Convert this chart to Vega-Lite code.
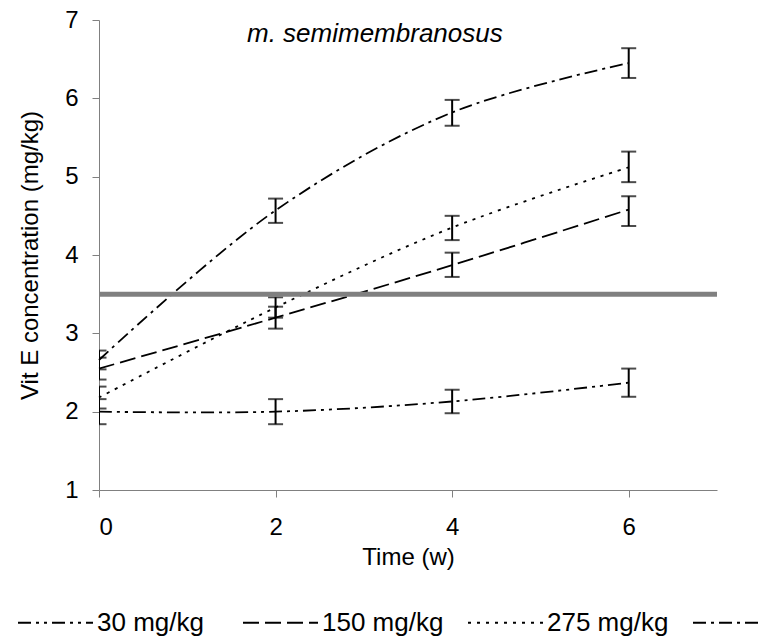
{
  "$schema": "https://vega.github.io/schema/vega-lite/v6.json",
  "width": 618,
  "height": 470,
  "autosize": {"type": "none"},
  "padding": {"left": 99, "top": 20, "right": 41, "bottom": 151},
  "background": "white",
  "config": {
    "font": "Liberation Sans",
    "view": {"stroke": null},
    "axis": {
      "grid": false,
      "domainColor": "#808080",
      "domainWidth": 1,
      "tickColor": "#808080",
      "tickWidth": 1,
      "tickSize": 7,
      "labelFont": "Liberation Sans",
      "labelFontSize": 24,
      "labelColor": "black",
      "titleFont": "Liberation Sans",
      "titleFontSize": 24,
      "titleFontWeight": "normal",
      "titleColor": "black"
    }
  },
  "title": {
    "text": "m. semimembranosus",
    "font": "Liberation Sans",
    "fontSize": 26,
    "fontStyle": "italic",
    "fontWeight": "normal",
    "color": "black",
    "anchor": "start",
    "frame": "group",
    "dx": 148,
    "dy": 36,
    "offset": -24,
    "baseline": "alphabetic"
  },
  "datasets": {
    "series": [
      {"dose": "30 mg/kg", "week": 0, "value": 2.0, "lo": 1.84, "hi": 2.16},
      {"dose": "30 mg/kg", "week": 2, "value": 2.0, "lo": 1.84, "hi": 2.16},
      {"dose": "30 mg/kg", "week": 4, "value": 2.13, "lo": 1.98, "hi": 2.28},
      {"dose": "30 mg/kg", "week": 6, "value": 2.37, "lo": 2.19, "hi": 2.55},
      {"dose": "150 mg/kg", "week": 0, "value": 2.55, "lo": 2.41, "hi": 2.69},
      {"dose": "150 mg/kg", "week": 2, "value": 3.2, "lo": 3.06, "hi": 3.34},
      {"dose": "150 mg/kg", "week": 4, "value": 3.87, "lo": 3.72, "hi": 4.03},
      {"dose": "150 mg/kg", "week": 6, "value": 4.58, "lo": 4.37, "hi": 4.75},
      {"dose": "275 mg/kg", "week": 0, "value": 2.18, "lo": 2.04, "hi": 2.32},
      {"dose": "275 mg/kg", "week": 2, "value": 3.33, "lo": 3.2, "hi": 3.46},
      {"dose": "275 mg/kg", "week": 4, "value": 4.35, "lo": 4.19, "hi": 4.5},
      {"dose": "275 mg/kg", "week": 6, "value": 5.12, "lo": 4.93, "hi": 5.32},
      {"dose": "500 mg/kg", "week": 0, "value": 2.66, "lo": 2.54, "hi": 2.78},
      {"dose": "500 mg/kg", "week": 2, "value": 4.57, "lo": 4.41, "hi": 4.72},
      {"dose": "500 mg/kg", "week": 4, "value": 5.82, "lo": 5.65, "hi": 5.98},
      {"dose": "500 mg/kg", "week": 6, "value": 6.45, "lo": 6.26, "hi": 6.64}
    ],
    "reference": [{"start": 0, "end": 7, "level": 3.5}]
  },
  "layer": [
    {
      "data": {"name": "series"},
      "mark": {"type": "line", "interpolate": "catmull-rom", "color": "black", "strokeWidth": 1.8},
      "encoding": {
        "x": {
          "field": "week", "type": "quantitative",
          "scale": {"domain": [0, 7], "nice": false, "zero": false},
          "axis": {"values": [0, 2, 4, 6], "format": "d", "title": "Time (w)", "labelPadding": 18, "titlePadding": 6}
        },
        "y": {
          "field": "value", "type": "quantitative",
          "scale": {"domain": [1, 7], "nice": false, "zero": false},
          "axis": {"values": [1, 2, 3, 4, 5, 6, 7], "format": "d", "title": "Vit E concentration (mg/kg)", "labelPadding": 14, "titlePadding": 22}
        },
        "strokeDash": {
          "field": "dose", "type": "nominal",
          "scale": {
            "domain": ["30 mg/kg", "150 mg/kg", "275 mg/kg", "500 mg/kg"],
            "range": [[13, 5, 3, 5, 3, 5], [16, 6], [3, 6], [13, 5, 3, 5]]
          },
          "legend": {
            "title": null,
            "orient": "none",
            "direction": "horizontal",
            "legendX": -82,
            "legendY": 564,
            "padding": 0,
            "gridAlign": "all",
            "symbolType": "stroke",
            "symbolSize": 5625,
            "symbolStrokeWidth": 2,
            "symbolStrokeColor": "black",
            "labelFont": "Liberation Sans",
            "labelFontSize": 26,
            "labelColor": "black",
            "labelOffset": 3,
            "columnPadding": 20,
            "labelLimit": 300
          }
        }
      }
    },
    {
      "data": {"name": "series"},
      "mark": {"type": "rule", "color": "black", "strokeWidth": 2, "clip": true},
      "encoding": {
        "x": {"field": "week", "type": "quantitative"},
        "y": {"field": "lo", "type": "quantitative"},
        "y2": {"field": "hi"}
      }
    },
    {
      "data": {"name": "series"},
      "mark": {"type": "tick", "orient": "horizontal", "color": "black", "size": 15, "thickness": 2, "clip": true},
      "encoding": {
        "x": {"field": "week", "type": "quantitative"},
        "y": {"field": "lo", "type": "quantitative"}
      }
    },
    {
      "data": {"name": "series"},
      "mark": {"type": "tick", "orient": "horizontal", "color": "black", "size": 15, "thickness": 2, "clip": true},
      "encoding": {
        "x": {"field": "week", "type": "quantitative"},
        "y": {"field": "hi", "type": "quantitative"}
      }
    },
    {
      "data": {"name": "reference"},
      "mark": {"type": "rule", "color": "#808080", "strokeWidth": 5},
      "encoding": {
        "x": {"field": "start", "type": "quantitative"},
        "x2": {"field": "end"},
        "y": {"field": "level", "type": "quantitative"}
      }
    }
  ]
}
